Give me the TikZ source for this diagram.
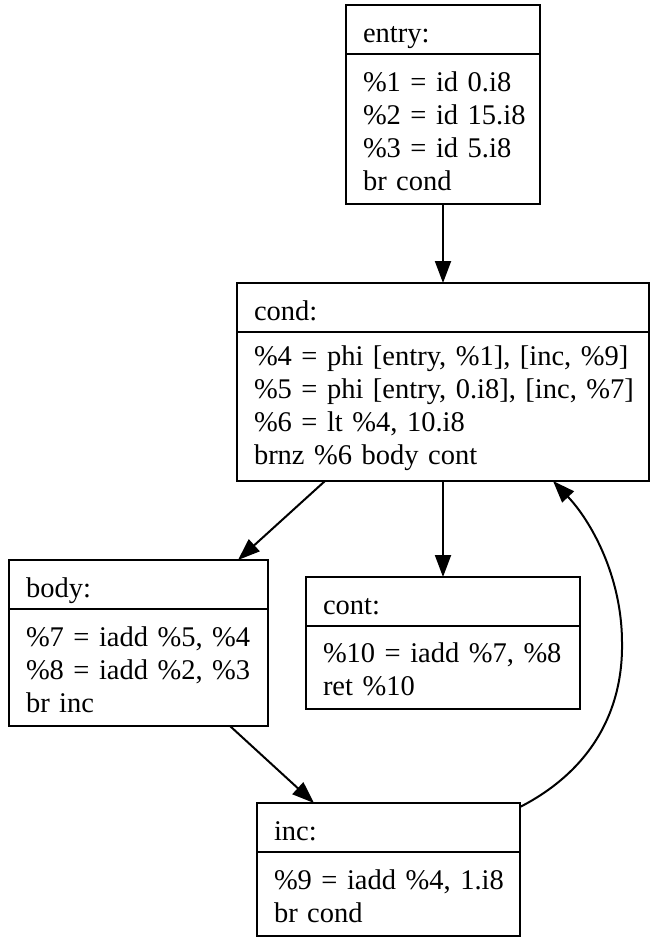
\documentclass[tikz,border=0pt]{standalone}
\usepackage{fontspec}
\setmainfont{Liberation Serif}
\usetikzlibrary{arrows.meta,calc}
\newcommand\codeline[1]{\mbox{#1}}
\newcommand\firstline[1]{\mbox{\rule{0pt}{24pt}#1}}
\begin{document}
\begin{tikzpicture}[x=1pt,y=-1pt,
  blk/.style={draw, line width=2pt, outer sep=0pt, inner xsep=17pt, inner ysep=0pt,
    align=left, anchor=north west, font=\fontsize{28.5}{33}\selectfont},
  hdr/.style={blk, minimum height=49pt, text height=32pt, text depth=6pt},
  edge/.style={line width=2pt, -{Triangle[length=22pt,width=16pt]}}]
\useasboundingbox (0,0) rectangle (670,941);
% entry
\node[hdr, text width=160pt] (entry-h) at (346,5) {entry:};
\node[blk, text width=160pt, minimum height=150pt] (entry-b) at (entry-h.south west)
  {\firstline{\%1 = id 0.i8}\\ \codeline{\%2 = id 15.i8}\\ \codeline{\%3 = id 5.i8}\\ \codeline{br cond}};
% cond
\node[hdr, text width=378pt] (cond-h) at (237,283) {cond:};
\node[blk, text width=378pt, minimum height=149pt] (cond-b) at (cond-h.south west)
  {\firstline{\%4 = phi [entry, \%1], [inc, \%9]}\\ \codeline{\%5 = phi [entry, 0.i8], [inc, \%7]}\\ \codeline{\%6 = lt \%4, 10.i8}\\ \codeline{brnz \%6 body cont}};
% body
\node[hdr, text width=225pt] (body-h) at (9,560) {body:};
\node[blk, text width=225pt, minimum height=117pt] (body-b) at (body-h.south west)
  {\firstline{\%7 = iadd \%5, \%4}\\ \codeline{\%8 = iadd \%2, \%3}\\ \codeline{br inc}};
% cont
\node[hdr, text width=240pt] (cont-h) at (306,577) {cont:};
\node[blk, text width=240pt, minimum height=83pt] (cont-b) at (cont-h.south west)
  {\firstline{\%10 = iadd \%7, \%8}\\ \codeline{ret \%10}};
% inc
\node[hdr, text width=229pt] (inc-h) at (257,803) {inc:};
\node[blk, text width=229pt, minimum height=84pt] (inc-b) at (inc-h.south west)
  {\firstline{\%9 = iadd \%4, 1.i8}\\ \codeline{br cond}};
% edges
\draw[edge] (entry-b.south) -- (cond-h.north);
\draw[edge] ([xshift=88pt]cond-b.south west) -- ([xshift=-30pt]body-h.north east);
\draw[edge] (cond-b.south) -- (cont-h.north);
\draw[edge] ([xshift=-38pt]body-b.south east) -- ([xshift=57pt]inc-h.north west);
\coordinate (loopmid) at (622,643);
\draw[edge] ([yshift=-4pt]inc-h.north east) .. controls (592,770) and (623,710) .. (loopmid)
  .. controls (622,575) and (590,520) .. ([xshift=-96pt]cond-b.south east);
\end{tikzpicture}
\end{document}
